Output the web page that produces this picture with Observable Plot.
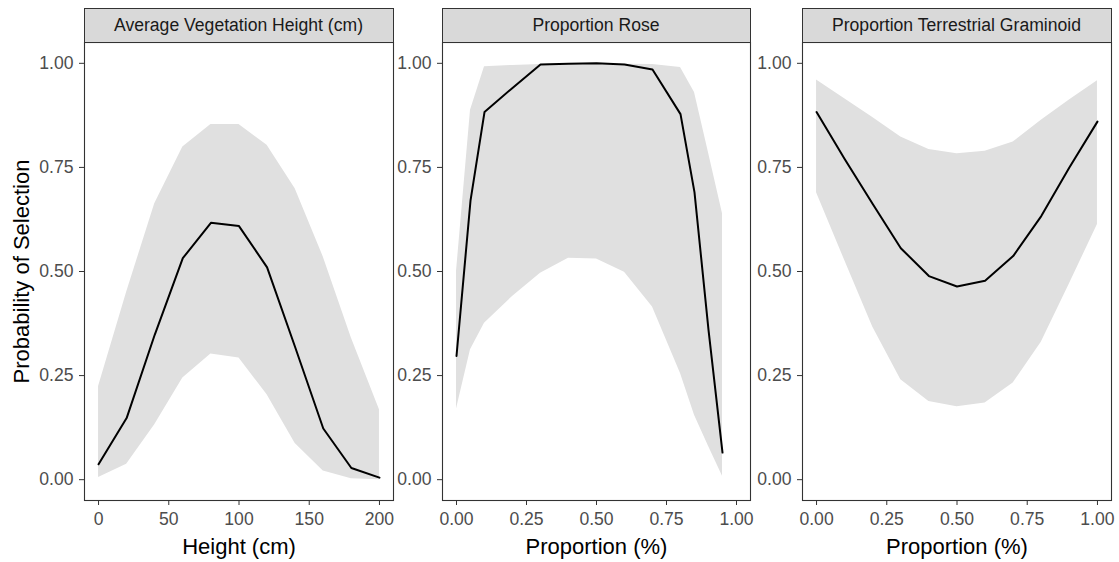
<!DOCTYPE html>
<html><head><meta charset="utf-8">
<script src="https://cdn.jsdelivr.net/npm/d3@7"></script>
<script src="https://cdn.jsdelivr.net/npm/@observablehq/plot@0.6"></script>
<style>
html,body{margin:0;padding:0;background:#fff;}
#chart{position:relative;width:1119px;height:562px;overflow:hidden;font-family:"Liberation Sans",Arial,sans-serif;background:#fff;}
.strip{position:absolute;top:8px;height:34px;box-sizing:border-box;background:#d9d9d9;border:1px solid #333;border-bottom:none;display:flex;align-items:center;justify-content:center;font-size:17.6px;color:#1a1a1a;white-space:nowrap;}
.panel{position:absolute;top:41px;}
.panel svg{overflow:visible;}
</style></head><body><div id="chart"></div>
<script>
// ---- data ----
const panelTitles = ["Average Vegetation Height (cm)", "Proportion Rose", "Proportion Terrestrial Graminoid"];
const xTitles = ["Height (cm)", "Proportion (%)", "Proportion (%)"];
const yTitle = "Probability of Selection";

const heightX    = [0, 20, 40, 60, 80, 100, 120, 140, 160, 180, 200];
const heightFit  = [0.037, 0.148, 0.348, 0.532, 0.617, 0.609, 0.510, 0.318, 0.123, 0.028, 0.005];
const heightLow  = [0.005, 0.037, 0.132, 0.244, 0.302, 0.292, 0.204, 0.087, 0.021, 0.002, 0.000];
const heightHigh = [0.224, 0.450, 0.663, 0.799, 0.853, 0.853, 0.803, 0.699, 0.535, 0.340, 0.168];

const roseX    = [0, 0.05, 0.1, 0.2, 0.3, 0.4, 0.5, 0.6, 0.7, 0.8, 0.85, 0.9, 0.95];
const roseFit  = [0.297, 0.670, 0.883, 0.941, 0.997, 0.999, 1.000, 0.997, 0.985, 0.878, 0.690, 0.360, 0.065];
const roseLow  = [0.170, 0.312, 0.376, 0.440, 0.496, 0.532, 0.530, 0.498, 0.415, 0.255, 0.155, 0.080, 0.008];
const roseHigh = [0.500, 0.887, 0.992, 0.995, 0.997, 0.999, 0.999, 0.998, 0.997, 0.990, 0.930, 0.785, 0.639];

const gramX    = [0, 0.1, 0.2, 0.3, 0.4, 0.5, 0.6, 0.7, 0.8, 0.9, 1.0];
const gramFit  = [0.883, 0.770, 0.662, 0.556, 0.489, 0.464, 0.478, 0.537, 0.633, 0.750, 0.860];
const gramLow  = [0.689, 0.527, 0.367, 0.240, 0.188, 0.175, 0.184, 0.232, 0.330, 0.470, 0.613];
const gramHigh = [0.960, 0.915, 0.870, 0.823, 0.793, 0.783, 0.789, 0.811, 0.863, 0.912, 0.958];

const yTicks = [0, 0.25, 0.5, 0.75, 1];
const heightTicks = [0, 50, 100, 150, 200];
const propTicks = [0, 0.25, 0.5, 0.75, 1];

// ---- layout ----
const rowsOf = (X, F, L, H) => X.map((x, i) => ({x, fit: F[i], lo: L[i], hi: H[i]}));
const panels = [
  {rows: rowsOf(heightX, heightFit, heightLow, heightHigh), xDomain: [-10, 210], xTicks: heightTicks, xFmt: d3.format("d"),
   left: 0, width: 396, marginLeft: 84, marginRight: 3, yTitle: true},
  {rows: rowsOf(roseX, roseFit, roseLow, roseHigh), xDomain: [-0.05, 1.05], xTicks: propTicks, xFmt: d3.format(".2f"),
   left: 396, width: 357, marginLeft: 46, marginRight: 3},
  {rows: rowsOf(gramX, gramFit, gramLow, gramHigh), xDomain: [-0.05, 1.05], xTicks: propTicks, xFmt: d3.format(".2f"),
   left: 753, width: 366, marginLeft: 49, marginRight: 8}
];

const chart = document.getElementById("chart");
panels.forEach((p, k) => {
  const marks = [
    Plot.areaY(p.rows, {x: "x", y1: "lo", y2: "hi", fill: "#e0e0e0"}),
    Plot.lineY(p.rows, {x: "x", y: "fit", stroke: "#000", strokeWidth: 2}),
    Plot.frame({stroke: "#333", strokeWidth: 1.1}),
    Plot.axisX(p.xTicks, {tickFormat: p.xFmt, tickSize: 5, tickPadding: 7, stroke: "#333", fill: "#4d4d4d", label: null, fontSize: 17.6}),
    Plot.axisY(yTicks, {tickFormat: d3.format(".2f"), tickSize: 5, tickPadding: 6, stroke: "#333", fill: "#4d4d4d", label: null, fontSize: 17.6}),
    Plot.text([xTitles[k]], {text: d => d, frameAnchor: "bottom", lineAnchor: "middle", textAnchor: "middle", dy: 46, fontSize: 22, fill: "#000"})
  ];
  if (p.yTitle) marks.push(Plot.text([yTitle], {text: d => d, frameAnchor: "left", lineAnchor: "middle", textAnchor: "middle", rotate: -90, dx: -62.5, fontSize: 22, fill: "#000"}));
  const svg = Plot.plot({
    width: p.width, height: 521,
    marginLeft: p.marginLeft, marginRight: p.marginRight, marginTop: 1, marginBottom: 62,
    x: {domain: p.xDomain},
    y: {domain: [-0.05, 1.05]},
    style: {fontFamily: "Liberation Sans, Arial, sans-serif", fontSize: "17.6px", background: "none", overflow: "visible"},
    marks
  });
  const holder = document.createElement("div");
  holder.className = "panel";
  holder.style.left = p.left + "px";
  holder.appendChild(svg);
  chart.appendChild(holder);
  const strip = document.createElement("div");
  strip.className = "strip";
  strip.style.left = (p.left + p.marginLeft - 0.5) + "px";
  strip.style.width = (p.width - p.marginLeft - p.marginRight + 1) + "px";
  strip.textContent = panelTitles[k];
  chart.appendChild(strip);
});
</script></body></html>
